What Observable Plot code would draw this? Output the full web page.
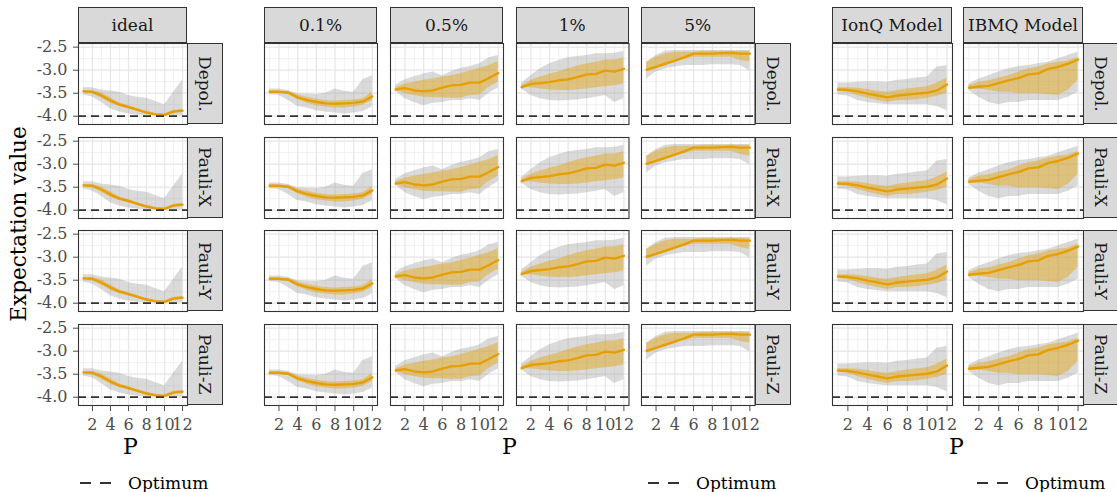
<!DOCTYPE html>
<html><head><meta charset="utf-8">
<script src="https://cdn.jsdelivr.net/npm/d3@7"></script>
<script src="https://cdn.jsdelivr.net/npm/@observablehq/plot@0.6"></script>
<style>
body{margin:0;background:#fff;font-family:"DejaVu Serif",serif;}
#root{position:relative;width:1117px;height:492px;overflow:hidden;background:#fff;}
.strip{position:absolute;box-sizing:border-box;border:1px solid #333;background:#D9D9D9;color:#1A1A1A;font-size:17px;display:flex;align-items:center;justify-content:center;white-space:nowrap;}
.vstrip{writing-mode:vertical-rl;}
.txt{position:absolute;white-space:nowrap;color:#000;}
</style></head><body><div id="root"></div>
<script>
const P = [1,2,3,4,5,6,7,8,9,10,11,12];
const noiseTypes = ["Depol.","Pauli-X","Pauli-Y","Pauli-Z"];
const xTicks = [2,4,6,8,10,12];
const xMinor = [1,3,5,7,9,11];
const yTicks = [-2.5,-3.0,-3.5,-4.0];
const yMinor = [-2.75,-3.25,-3.75];
const optimum = -4.0;

const idealMean = [-3.46,-3.47,-3.55,-3.66,-3.75,-3.80,-3.86,-3.92,-3.96,-3.97,-3.90,-3.88];
const idealMin  = [-3.54,-3.58,-3.70,-3.84,-3.91,-3.95,-3.98,-3.99,-3.99,-3.99,-3.99,-3.99];
const idealMax  = [-3.38,-3.38,-3.43,-3.45,-3.48,-3.55,-3.59,-3.61,-3.68,-3.75,-3.48,-3.22];
const idealQlo  = [-3.49,-3.51,-3.61,-3.72,-3.79,-3.84,-3.89,-3.95,-3.98,-3.99,-3.93,-3.91];
const idealQhi  = [-3.44,-3.44,-3.49,-3.60,-3.71,-3.77,-3.83,-3.89,-3.94,-3.95,-3.87,-3.85];

const n01Mean = [-3.47,-3.47,-3.49,-3.59,-3.65,-3.69,-3.72,-3.73,-3.72,-3.71,-3.68,-3.57];
const n01Min  = [-3.53,-3.55,-3.66,-3.79,-3.82,-3.88,-3.91,-3.93,-3.95,-3.93,-3.90,-3.80];
const n01Max  = [-3.41,-3.41,-3.44,-3.51,-3.52,-3.53,-3.50,-3.41,-3.46,-3.48,-3.20,-3.12];
const n01Qlo  = [-3.49,-3.50,-3.53,-3.64,-3.72,-3.77,-3.80,-3.82,-3.82,-3.80,-3.76,-3.66];
const n01Qhi  = [-3.45,-3.45,-3.46,-3.54,-3.59,-3.63,-3.66,-3.67,-3.66,-3.65,-3.62,-3.48];

const n05Mean = [-3.42,-3.39,-3.44,-3.46,-3.44,-3.38,-3.33,-3.32,-3.27,-3.27,-3.17,-3.06];
const n05Min  = [-3.46,-3.62,-3.70,-3.77,-3.72,-3.70,-3.66,-3.66,-3.62,-3.66,-3.50,-3.38];
const n05Max  = [-3.33,-3.21,-3.14,-3.08,-3.04,-3.12,-3.03,-2.96,-2.92,-2.86,-2.73,-2.68];
const n05Qlo  = [-3.44,-3.51,-3.55,-3.59,-3.60,-3.60,-3.61,-3.61,-3.55,-3.54,-3.37,-3.26];
const n05Qhi  = [-3.38,-3.30,-3.26,-3.22,-3.19,-3.15,-3.12,-3.07,-3.02,-2.96,-2.90,-2.81];

const n1Mean = [-3.37,-3.30,-3.28,-3.26,-3.22,-3.20,-3.15,-3.09,-3.08,-3.01,-3.03,-2.97];
const n1Min  = [-3.41,-3.55,-3.62,-3.66,-3.67,-3.66,-3.65,-3.62,-3.59,-3.55,-3.70,-3.62];
const n1Max  = [-3.28,-3.12,-2.97,-2.86,-2.79,-2.73,-2.70,-2.68,-2.64,-2.64,-2.63,-2.59];
const n1Qlo  = [-3.38,-3.38,-3.41,-3.43,-3.44,-3.44,-3.43,-3.41,-3.38,-3.36,-3.34,-3.30];
const n1Qhi  = [-3.33,-3.22,-3.15,-3.09,-3.04,-2.97,-2.91,-2.86,-2.83,-2.78,-2.78,-2.73];

const n5Mean = [-2.99,-2.93,-2.86,-2.79,-2.72,-2.64,-2.64,-2.64,-2.63,-2.62,-2.64,-2.64];
const n5Min  = [-3.19,-3.04,-2.97,-2.93,-2.90,-2.90,-2.90,-2.88,-2.88,-2.88,-2.90,-3.02];
const n5Max  = [-2.83,-2.68,-2.59,-2.57,-2.57,-2.57,-2.57,-2.57,-2.57,-2.57,-2.57,-2.57];
const n5Qlo  = [-3.04,-2.97,-2.90,-2.83,-2.77,-2.72,-2.72,-2.72,-2.72,-2.72,-2.79,-2.83];
const n5Qhi  = [-2.83,-2.72,-2.64,-2.61,-2.61,-2.61,-2.59,-2.59,-2.59,-2.59,-2.59,-2.59];

const ionqMean = [-3.42,-3.43,-3.46,-3.51,-3.55,-3.59,-3.55,-3.53,-3.51,-3.49,-3.44,-3.31];
const ionqMin  = [-3.54,-3.56,-3.66,-3.70,-3.73,-3.75,-3.75,-3.75,-3.75,-3.75,-3.79,-3.88];
const ionqMax  = [-3.28,-3.28,-3.26,-3.25,-3.25,-3.26,-3.22,-3.20,-3.17,-3.15,-2.93,-2.90];
const ionqQlo  = [-3.46,-3.48,-3.55,-3.61,-3.66,-3.70,-3.66,-3.66,-3.64,-3.61,-3.57,-3.50];
const ionqQhi  = [-3.38,-3.38,-3.39,-3.42,-3.46,-3.48,-3.44,-3.41,-3.38,-3.36,-3.28,-3.17];

const ibmqMean = [-3.38,-3.36,-3.34,-3.28,-3.22,-3.17,-3.09,-3.07,-2.97,-2.93,-2.86,-2.77];
const ibmqMin  = [-3.44,-3.59,-3.70,-3.75,-3.70,-3.70,-3.66,-3.66,-3.66,-3.66,-3.59,-3.48];
const ibmqMax  = [-3.30,-3.19,-3.12,-3.04,-2.97,-2.92,-2.90,-2.86,-2.83,-2.75,-2.68,-2.61];
const ibmqQlo  = [-3.41,-3.41,-3.44,-3.48,-3.48,-3.51,-3.51,-3.51,-3.53,-3.55,-3.44,-3.22];
const ibmqQhi  = [-3.33,-3.26,-3.23,-3.17,-3.12,-3.04,-2.97,-2.93,-2.86,-2.83,-2.80,-2.72];

const methods = [
  {name:"ideal",      mean:idealMean, min:idealMin, max:idealMax, qlo:idealQlo, qhi:idealQhi},
  {name:"0.1%",       mean:n01Mean,  min:n01Min,  max:n01Max,  qlo:n01Qlo,  qhi:n01Qhi},
  {name:"0.5%",       mean:n05Mean,  min:n05Min,  max:n05Max,  qlo:n05Qlo,  qhi:n05Qhi},
  {name:"1%",         mean:n1Mean,   min:n1Min,   max:n1Max,   qlo:n1Qlo,   qhi:n1Qhi},
  {name:"5%",         mean:n5Mean,   min:n5Min,   max:n5Max,   qlo:n5Qlo,   qhi:n5Qhi},
  {name:"IonQ Model", mean:ionqMean, min:ionqMin, max:ionqMax, qlo:ionqQlo, qhi:ionqQhi},
  {name:"IBMQ Model", mean:ibmqMean, min:ibmqMin, max:ibmqMax, qlo:ibmqQlo, qhi:ibmqQhi}
];

// layout
const colLeft  = [78, 264, 390, 516, 641, 832, 963];
const colWidth = [109, 113, 113, 112.5, 113.5, 120, 120];
const rowTop = [43, 136.5, 230, 323.5];
const panelH = 81;
const stripH = 36;
const groups = [{cols:[0], stripW:36, pX:131, legX:80},
                {cols:[1,2,3,4], stripW:36, pX:510, legX:648},
                {cols:[5,6], stripW:35, pX:957, legX:977}];

const FONT = "DejaVu Serif";
const root = document.getElementById("root");

function addDiv(cls, css, text){
  const d = document.createElement("div");
  d.className = cls; Object.assign(d.style, css); d.textContent = text; root.appendChild(d); return d;
}

function panel(m, ci, ri){
  const showY = ci === 0, showX = ri === 3;
  const mL = showY ? colLeft[ci] : 0;
  const mB = showX ? 36 : 0;
  const w = colWidth[ci];
  const data = P.map((p,i)=>({p, mean:m.mean[i], min:m.min[i], max:m.max[i], qlo:m.qlo[i], qhi:m.qhi[i]}));
  const marks = [
    Plot.ruleX(xMinor, {stroke:"#EFEFEF", strokeWidth:0.9}),
    Plot.ruleY(yMinor, {stroke:"#EFEFEF", strokeWidth:0.9}),
    Plot.ruleX(xTicks, {stroke:"#E6E6E6", strokeWidth:1.2}),
    Plot.ruleY(yTicks, {stroke:"#E6E6E6", strokeWidth:1.2}),
    Plot.areaY(data, {x:"p", y1:"min", y2:"max", fill:"#999999", fillOpacity:0.36}),
    Plot.areaY(data, {x:"p", y1:"qlo", y2:"qhi", fill:"#E69F00", fillOpacity:0.42}),
    Plot.lineY(data, {x:"p", y:"mean", stroke:"#E69F00", strokeWidth:2.4}),
    Plot.ruleY([optimum], {stroke:"#333333", strokeWidth:1.8, strokeDasharray:"8,5"}),
    Plot.frame({stroke:"#333333", strokeWidth:1.1})
  ];
  if (showY) marks.push(Plot.axisY(yTicks, {label:null, tickFormat:d=>d.toFixed(1), tickSize:5, tickPadding:6, fontSize:16, color:"#4D4D4D"}));
  if (showX) marks.push(Plot.axisX(xTicks, {label:null, tickFormat:d=>String(d), tickSize:6, tickPadding:7, fontSize:16, color:"#4D4D4D"}));
  const svg = Plot.plot({
    width: w + mL, height: panelH + mB,
    marginLeft: mL, marginRight: 0, marginTop: 0, marginBottom: mB,
    x:{domain:[0.45,12.55], axis:null, label:null},
    y:{domain:[-4.18,-2.42], axis:null, label:null},
    style:{fontFamily:FONT, background:"transparent", overflow:"visible"},
    marks
  });
  svg.style.position = "absolute";
  svg.style.left = (colLeft[ci] - mL) + "px";
  svg.style.top = rowTop[ri] + "px";
  root.appendChild(svg);
}

methods.forEach((m, ci)=>{
  addDiv("strip", {left:colLeft[ci]+"px", top:(rowTop[0]-stripH)+"px", width:colWidth[ci]+"px", height:stripH+"px"}, m.name);
  noiseTypes.forEach((nt, ri)=> panel(m, ci, ri));
});

groups.forEach(g=>{
  const last = g.cols[g.cols.length-1];
  const sx = colLeft[last] + colWidth[last];
  noiseTypes.forEach((nt, ri)=>{
    addDiv("strip vstrip", {left:sx+"px", top:rowTop[ri]+"px", width:g.stripW+"px", height:panelH+"px"}, nt);
  });
  addDiv("txt", {left:(g.pX-8)+"px", top:"434px", fontSize:"22px"}, "P");
  const leg = document.createElement("div");
  leg.className = "txt";
  Object.assign(leg.style, {left:g.legX+"px", top:"471px", display:"flex", alignItems:"center", fontSize:"17px"});
  leg.innerHTML = '<svg width="32" height="24" style="margin-right:16px"><line x1="0" y1="12" x2="32" y2="12" stroke="#333" stroke-width="1.8" stroke-dasharray="11,9"/></svg><span>Optimum</span>';
  root.appendChild(leg);
});

addDiv("txt", {left:"18px", top:"224px", fontSize:"21.5px", transform:"translate(-50%,-50%) rotate(-90deg)"}, "Expectation value");
</script></body></html>
